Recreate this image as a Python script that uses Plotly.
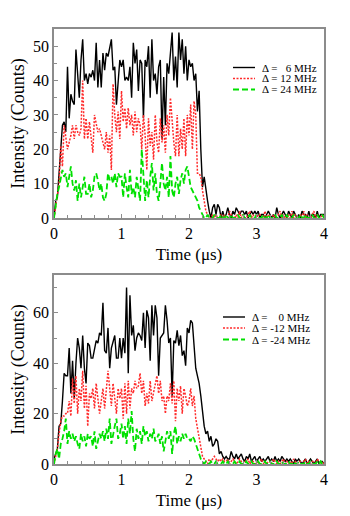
import plotly.graph_objects as go

# sample times (microseconds), 0.025 us bins
time_us = [round(0.025 * i, 3) for i in range(161)]

# ---------------- top panel ----------------
top_6mhz = [
    0, 5, 6, 12, 20, 27, 28, 25, 44, 29, 36, 34, 33, 49, 40, 35, 46, 52, 40, 42,
    39, 42, 41, 43, 40, 51, 38, 46, 38, 48, 43, 48, 47, 50, 52, 43, 44, 33, 40, 46,
    44, 46, 40, 41, 40, 44, 35, 51, 45, 49, 37, 46, 45, 29, 46, 44, 50, 35, 52, 40,
    42, 36, 44, 46, 23, 41, 27, 45, 42, 49, 54, 40, 47, 38, 54, 46, 52, 42, 50, 40,
    46, 44, 45, 40, 42, 31, 37, 20, 9, 12, 8, 5, 2, 0, 3, 4, 1, 4, 3, 0,
    2, 0, 1, 3, 1, 0, 2, 1, 3, 2, 1, 2, 2, 1, 2, 0, 1, 2, 1, 2,
    1, 2, 0, 1, 1, 0, 1, 2, 1, 0, 1, 0, 3, 1, 0, 1, 2, 1, 0, 2,
    1, 0, 2, 1, 0, 1, 0, 2, 1, 1, 0, 2, 0, 1, 1, 0, 2, 0, 1, 1,
    1,
]
top_12mhz = [
    0, 3, 6, 10, 21, 15, 27, 24, 20, 22, 24, 27, 23, 27, 25, 24, 26, 40, 23, 29,
    23, 28, 24, 19, 30, 27, 25, 26, 24, 22, 20, 25, 19, 24, 14, 39, 30, 25, 31, 23,
    37, 28, 32, 26, 32, 27, 30, 24, 31, 25, 29, 27, 20, 30, 24, 14, 29, 21, 25, 17,
    30, 22, 19, 29, 22, 27, 19, 30, 24, 35, 27, 22, 18, 30, 18, 26, 20, 29, 18, 30,
    24, 33, 20, 34, 30, 13, 13, 12, 8, 5, 2, 1, 0, 0, 1, 0, 1, 0, 0, 1,
    0, 1, 0, 0, 2, 1, 0, 0, 1, 0, 2, 0, 1, 0, 0, 1, 2, 0, 1, 0,
    0, 1, 1, 0, 0, 2, 0, 1, 0, 0, 1, 0, 0, 1, 2, 0, 1, 0, 0, 1,
    0, 2, 0, 1, 0, 0, 1, 0, 2, 0, 1, 0, 0, 1, 2, 0, 1, 0, 0, 1,
    0,
]
top_24mhz = [
    0, 4, 7, 9, 12, 14, 12, 13, 9, 12, 15, 10, 8, 11, 5, 10, 6, 9, 12, 7,
    7, 10, 6, 8, 12, 13, 11, 8, 10, 6, 5, 7, 13, 11, 12, 10, 13, 9, 13, 12,
    12, 6, 13, 9, 6, 14, 7, 9, 6, 12, 8, 5, 20, 13, 5, 11, 6, 12, 16, 8,
    13, 7, 5, 10, 16, 10, 8, 12, 6, 18, 8, 6, 10, 12, 7, 11, 13, 10, 14, 15,
    12, 9, 8, 7, 6, 5, 3, 2, 1, 0, 0, 1, 0, 0, 0, 1, 0, 0, 0, 1,
    0, 0, 1, 0, 0, 1, 0, 0, 0, 1, 0, 0, 1, 0, 0, 0, 1, 0, 0, 0,
    1, 0, 0, 0, 1, 0, 0, 1, 0, 0, 0, 1, 0, 0, 0, 1, 0, 0, 1, 0,
    0, 0, 1, 0, 0, 0, 1, 0, 0, 1, 0, 0, 0, 1, 0, 0, 1, 0, 0, 1,
    0,
]

# ---------------- bottom panel ----------------
bot_0mhz = [
    2, 4, 6, 15, 16, 25, 36, 35, 35, 46, 28, 41, 26, 40, 50, 46, 38, 51, 38, 32,
    48, 47, 42, 42, 45, 49, 48, 52, 51, 64, 45, 44, 54, 38, 46, 49, 51, 42, 42, 50,
    42, 50, 44, 70, 36, 67, 51, 55, 45, 50, 52, 51, 49, 60, 46, 61, 58, 41, 63, 51,
    63, 58, 35, 50, 51, 52, 63, 57, 48, 50, 27, 49, 48, 53, 47, 51, 43, 45, 39, 54,
    52, 57, 56, 45, 38, 35, 32, 27, 21, 15, 12, 13, 9, 11, 7, 8, 10, 9, 4, 5,
    3, 2, 3, 2, 2, 5, 3, 2, 4, 2, 3, 4, 2, 1, 3, 2, 4, 1, 2, 3,
    1, 2, 3, 1, 2, 1, 2, 3, 1, 2, 1, 3, 1, 2, 1, 3, 2, 1, 2, 1,
    2, 1, 0, 2, 1, 2, 1, 0, 1, 2, 0, 1, 2, 1, 0, 1, 2, 0, 1, 1,
    0,
]
bot_m12mhz = [
    0, 3, 6, 12, 17, 19, 19, 20, 20, 25, 19, 34, 24, 35, 20, 30, 25, 37, 22, 31,
    15, 28, 26, 30, 22, 32, 27, 20, 25, 30, 22, 29, 37, 30, 23, 32, 27, 20, 30, 26,
    30, 18, 32, 20, 33, 22, 30, 28, 33, 30, 31, 36, 28, 33, 23, 28, 24, 33, 25, 28,
    31, 35, 28, 33, 25, 27, 20, 27, 25, 32, 24, 33, 17, 30, 25, 31, 20, 30, 27, 23,
    25, 30, 23, 27, 18, 14, 10, 6, 3, 2, 1, 0, 2, 1, 2, 3, 2, 1, 2, 1,
    2, 1, 1, 2, 0, 1, 2, 1, 0, 1, 2, 1, 0, 1, 1, 2, 0, 1, 1, 0,
    1, 0, 1, 2, 0, 1, 0, 1, 1, 0, 2, 1, 0, 1, 0, 1, 2, 0, 1, 0,
    1, 0, 2, 1, 0, 1, 1, 0, 1, 2, 0, 1, 0, 1, 1, 0, 2, 1, 0, 1,
    0,
]
bot_m24mhz = [
    0, 4, 6, 2, 8, 10, 13, 18, 8, 13, 10, 12, 9, 11, 8, 6, 12, 9, 11, 7,
    12, 10, 11, 7, 13, 6, 9, 12, 10, 13, 9, 14, 10, 18, 8, 12, 15, 18, 10, 12,
    16, 10, 15, 8, 18, 12, 21, 10, 5, 14, 10, 13, 8, 15, 11, 13, 9, 12, 10, 14,
    9, 10, 12, 8, 11, 5, 9, 13, 10, 13, 4, 12, 15, 8, 11, 9, 12, 10, 12, 10,
    10, 9, 11, 10, 8, 6, 4, 2, 1, 0, 1, 0, 0, 1, 0, 0, 1, 0, 0, 0,
    1, 0, 0, 1, 0, 0, 0, 1, 0, 0, 1, 0, 0, 0, 1, 0, 0, 1, 0, 0,
    0, 1, 0, 0, 0, 1, 0, 0, 1, 0, 0, 0, 1, 0, 0, 1, 0, 0, 0, 1,
    0, 0, 1, 0, 0, 1, 0, 0, 0, 1, 0, 0, 1, 0, 0, 0, 1, 0, 1, 0,
    0,
]

top_labels = ["\u0394 = \u00a0\u00a06 MHz", "\u0394 = 12 MHz", "\u0394 = 24 MHz"]
bot_labels = ["\u0394 = \u00a0\u00a0\u00a00 MHz", "\u0394 = -12 MHz", "\u0394 = -24 MHz"]
x_ticks = [0, 1, 2, 3, 4]

# page has an 8px body margin: the figure occupies page px 8..350 x 8..516
OFF = 8
W, H = 350 - OFF, 516 - OFF
FONT = "Liberation Serif, Times New Roman, serif"
BLACK = "#000000"
RED = "#ff2a2a"
GREEN = "#00e000"
FRAME = "#8c8c8c"

styles = [
    dict(color=BLACK, width=1.4, dash="solid"),
    dict(color=RED, width=1.5, dash="2px,1.5px"),
    dict(color=GREEN, width=1.8, dash="6px,3px"),
]

fig = go.Figure()
for ys, st in zip([top_6mhz, top_12mhz, top_24mhz], styles):
    fig.add_trace(go.Scatter(x=time_us, y=ys, mode="lines", line=st,
                             xaxis="x", yaxis="y", showlegend=False, hoverinfo="skip"))
for ys, st in zip([bot_0mhz, bot_m12mhz, bot_m24mhz], styles):
    fig.add_trace(go.Scatter(x=time_us, y=ys, mode="lines", line=st,
                             xaxis="x2", yaxis="y2", showlegend=False, hoverinfo="skip"))

px_x = lambda p: (p - OFF) / W
px_y = lambda p: 1 - (p - OFF) / H

x_dom = [px_x(54), px_x(324)]
top_dom = [px_y(218), px_y(29)]
bot_dom = [px_y(464), px_y(275)]

def xaxis(anchor):
    return dict(domain=x_dom, range=[0, 4], anchor=anchor, automargin=False,
                tickvals=x_ticks, ticks="inside", ticklen=4, tickwidth=1, tickcolor=FRAME,
                minor=dict(dtick=0.2, ticks="inside", ticklen=3, tickcolor=FRAME),
                showline=True, linecolor=FRAME, linewidth=1.5, mirror=True,
                showgrid=False, zeroline=False,
                tickfont=dict(family=FONT, size=16, color="black"),
                title=dict(text="Time (\u03bcs)", font=dict(family=FONT, size=17, color="black"),
                           standoff=7))

def yaxis(anchor, dom, rng, dtick, mdtick):
    return dict(domain=dom, range=rng, anchor=anchor, automargin=False,
                dtick=dtick, ticks="inside", ticklen=4, tickwidth=1, tickcolor=FRAME,
                minor=dict(dtick=mdtick, ticks="inside", ticklen=3, tickcolor=FRAME),
                showline=True, linecolor=FRAME, linewidth=1.5, mirror=True,
                showgrid=False, zeroline=False,
                tickfont=dict(family=FONT, size=16, color="black"),
                title=dict(text="Intensity (Counts)", font=dict(family=FONT, size=18, color="black"),
                           standoff=12))

shapes = []
annotations = []

def legend(labels, x0, x1, xt, rows):
    for lab, st, yy in zip(labels, styles, rows):
        shapes.append(dict(type="line", xref="paper", yref="paper",
                           x0=px_x(x0), x1=px_x(x1), y0=px_y(yy), y1=px_y(yy),
                           line=st))
        annotations.append(dict(xref="paper", yref="paper", x=px_x(xt), y=px_y(yy),
                                xanchor="left", yanchor="middle", showarrow=False,
                                borderpad=0,
                                text=lab, font=dict(family=FONT, size=11, color="black")))

legend(top_labels, 233, 255, 261, [67.5, 78.5, 89.5])
legend(bot_labels, 223, 245, 251, [317, 328, 339.5])

fig.update_layout(
    width=W, height=H,
    margin=dict(l=0, r=0, t=0, b=0),
    paper_bgcolor="white", plot_bgcolor="white",
    xaxis=xaxis("y"),
    yaxis=yaxis("x", top_dom, [0, 55], 10, 5),
    xaxis2=xaxis("y2"),
    yaxis2=yaxis("x2", bot_dom, [0, 75], 20, 10),
    shapes=shapes, annotations=annotations,
    showlegend=False,
)

fig.write_html("out.html")
